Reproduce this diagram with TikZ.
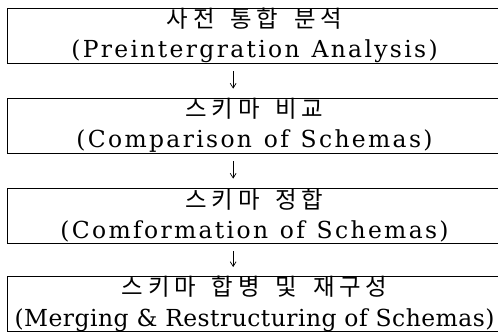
\documentclass[tikz,border=0pt]{standalone}
\usepackage{fontspec}
\setmainfont{DejaVu Serif}[LetterSpace=10,WordSpace=1.2]
\newfontfamily\tightfont{DejaVu Serif}[LetterSpace=2,WordSpace=1]
\newfontfamily\kofont{Noto Sans CJK KR}[LetterSpace=20,WordSpace=1.6]
\usepackage{tikz}
\usetikzlibrary{positioning,arrows.meta}

\begin{document}
\begin{tikzpicture}[
    x=0.03cm,y=-0.03cm,
    font=\fontsize{20}{26}\selectfont,
    stage/.style={draw,line width=0.6pt,align=center,minimum width=14.85cm,minimum height=1.65cm,inner sep=0pt},
    arr/.style={-{Straight Barb[length=4pt,width=5pt]},line width=0.6pt,shorten <=0.24cm,shorten >=0.27cm}
  ]
    \useasboundingbox (0,0) rectangle (498,333);

    \node[stage] (pre) at (254.5,35.5) {{\kofont 사전 통합 분석}\\(Preintergration Analysis)};
    \node[stage] (cmp) at (254.5,125.5) {{\kofont 스키마 비교}\\(Comparison of Schemas)};
    \node[stage] (cnf) at (254.5,215.5) {{\kofont 스키마 정합}\\(Comformation of Schemas)};
    \node[stage] (mrg) at (254.5,304) {{\kofont 스키마 합병 및 재구성}\\{\tightfont (Merging \& Restructuring of Schemas)}};

    \draw[arr] ([xshift=-0.64cm]pre.south) -- ([xshift=-0.64cm]cmp.north);
    \draw[arr] ([xshift=-0.64cm]cmp.south) -- ([xshift=-0.64cm]cnf.north);
    \draw[arr] ([xshift=-0.64cm]cnf.south) -- ([xshift=-0.64cm]mrg.north);
  \end{tikzpicture}
\end{document}
